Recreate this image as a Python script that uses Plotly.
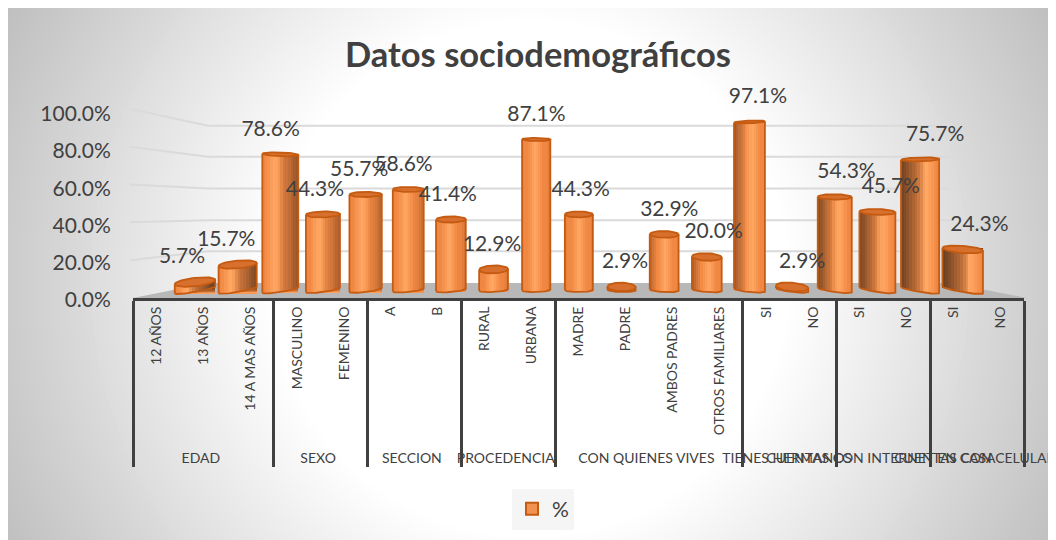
import math
import plotly.graph_objects as go

# ---- data ----
GROUPS = ["EDAD"] * 3 + ["SEXO"] * 2 + ["SECCION"] * 2 + ["PROCEDENCIA"] * 2 + \
         ["CON QUIENES VIVES"] * 4 + ["TIENES HERMANOS"] * 2 + \
         ["CUENTAS CON INTERNET EN CASA"] * 2 + ["CUENTAS CON CELULAR"] * 2
CATEGORIES = ["12 AÑOS", "13 AÑOS", "14 A MAS AÑOS", "MASCULINO", "FEMENINO", "A", "B",
              "RURAL", "URBANA", "MADRE", "PADRE", "AMBOS PADRES", "OTROS FAMILIARES",
              "SI", "NO", "SI", "NO", "SI", "NO"]
VALUES = [5.7, 15.7, 78.6, 44.3, 55.7, 58.6, 41.4, 12.9, 87.1, 44.3, 2.9, 32.9, 20.0,
          97.1, 2.9, 54.3, 45.7, 75.7, 24.3]
Y_TICKS = [0, 20, 40, 60, 80, 100]
Y_TICK_LABELS = ["0.0%", "20.0%", "40.0%", "60.0%", "80.0%", "100.0%"]
TITLE = "Datos sociodemográficos"
SERIES = "%"

# ---- page geometry (pixels of the 1056x540 window) ----
OX, OY = 8, 8
W, H = 1060, 532
L, R, T, B = 133, 1024, 80, 299
TOP_TICK = 112      # pixel of the 100% tick; the plot area runs higher so labels above it stay drawn
FONT = "Lato"
TXT = "#404040"
RIGHT_MARGIN = 44   # what the overhanging last group label leaves to the plot area
def px(x): return (x - L) / (R - L)
def py(y): return (B - y) / (B - T)

# hidden perspective axes the cylinders are drawn on
BAR0, BAR_STEP = 195, 42.65
Y0, Y_STEP = 293, 1.76
x2_range = [(L - BAR0) / BAR_STEP, (R - BAR0) / BAR_STEP]
y2_range = [(Y0 - B) / Y_STEP, (Y0 - T) / Y_STEP]
y_range = [0, 100 * (B - T) / (B - TOP_TICK)]

def mix(a, b, f):
    return tuple(a[k] + (b[k] - a[k]) * f for k in range(3))
def rgb(c):
    return "rgb(%d,%d,%d)" % tuple(round(v) for v in c)

BASE = (240, 135, 66)
LIGHT = (255, 168, 100)
DARK = (92, 58, 34)
RIM = "#C55A11"
CAP = (214, 112, 44)

n = len(VALUES)
mid = (n - 1) / 2
def persp(i): return (i - mid) / mid
def half_w(i):
    return (28 + 12.5 * abs(persp(i)) ** 1.8) / 2 / BAR_STEP
def tilt_base(i):
    return -7 * persp(i) / 2
def tilt_top(i, v):
    return tilt_base(i) * (1 - v / 60) * 0.7
def cap_h(v):
    return 1.2 + 3.2 * (1 - v / 100)
BASE_PX = 2 / Y_STEP
SAG = 2.0

def strip_color(i, u):
    t = persp(i)
    hl = 0.4 * t
    d = abs(u - hl)
    c = mix(LIGHT, BASE, min(1, d / 0.55))
    if d > 0.8:
        c = mix(c, (205, 105, 40), min(1, (d - 0.8) / 0.6))
    side = -u if t > 0 else u
    start = 0.75 - abs(t) * 1.1
    s = min(1, max(0, (side - start) / (1 - start)))
    strength = 0.9 * abs(t) ** 0.7 if t > 0 else 0.9 * abs(t) ** 2.2
    return mix(c, DARK, min(1, s ** 0.8) * strength)

fig = go.Figure()

# real axis carrier: categories and values on the visible axes
fig.add_trace(go.Bar(x=[GROUPS, CATEGORIES], y=VALUES, marker=dict(opacity=0),
                     hoverinfo="skip", showlegend=False, xaxis="x", yaxis="y"))

# cylinders as vertical strips on the hidden axes
N = 14
for j in range(N):
    u0 = -1 + 2 * j / N
    u1 = -1 + 2 * (j + 1) / N
    uc = (u0 + u1) / 2
    xs, offs, wid, base, hgt, cols = [], [], [], [], [], []
    for i, v in enumerate(VALUES):
        hw = half_w(i)
        top = v + tilt_top(i, v) * uc / Y_STEP
        bot = BASE_PX + (tilt_base(i) * uc - SAG * math.sqrt(max(0, 1 - uc * uc))) / Y_STEP
        if top < bot:
            top = bot
        xs.append(i)
        offs.append(u0 * hw)
        wid.append((1 - u0) * hw)   # every strip runs to the right edge, the next one covers it
        base.append(bot)
        hgt.append(top - bot)
        cols.append(rgb(strip_color(i, uc)))
    fig.add_trace(go.Bar(x=xs, y=hgt, base=base, offset=offs, width=wid,
                         marker=dict(color=cols, line=dict(width=0)),
                         hoverinfo="skip", showlegend=False, xaxis="x2", yaxis="y2"))

# outline and caps
ox, oy, cx, cy = [], [], [], []
M = 24
for i, v in enumerate(VALUES):
    hw = half_w(i)
    for k in range(M + 1):
        a = math.pi * k / M
        u = -math.cos(a)
        ox.append(i + u * hw)
        oy.append(BASE_PX + (tilt_base(i) * u - SAG * math.sin(a)) / Y_STEP)
    ox.append(i + hw); oy.append(v + tilt_top(i, v) / Y_STEP)
    ox.append(None); oy.append(None)
    ox.append(i - hw); oy.append(v - tilt_top(i, v) / Y_STEP)
    ox.append(i - hw); oy.append(BASE_PX - tilt_base(i) / Y_STEP)
    ox.append(None); oy.append(None)
    h = cap_h(v)
    for k in range(2 * M + 1):
        a = math.pi * k / M
        u = -math.cos(a)
        cx.append(i + u * hw)
        cy.append(v + (tilt_top(i, v) * u + h * math.sin(a)) / Y_STEP)
    cx.append(None); cy.append(None)
fig.add_trace(go.Scatter(x=ox, y=oy, mode="lines", line=dict(color=RIM, width=1.8),
                         hoverinfo="skip", showlegend=False, xaxis="x2", yaxis="y2", cliponaxis=False))
fig.add_trace(go.Scatter(x=cx, y=cy, mode="lines", fill="toself", fillcolor=rgb(CAP),
                         line=dict(color=RIM, width=1.8),
                         hoverinfo="skip", showlegend=False, xaxis="x2", yaxis="y2", cliponaxis=False))

# value labels
LABEL0, LABEL_STEP = 182, 44.3
fig.add_trace(go.Scatter(
    x=[(LABEL0 + LABEL_STEP * i - BAR0) / BAR_STEP for i in range(n)],
    y=[v + 24 / Y_STEP for v in VALUES],
    text=["%.1f%%" % v for v in VALUES], mode="text", textposition="middle center",
    textfont=dict(family=FONT, size=21, color=TXT),
    hoverinfo="skip", showlegend=False, xaxis="x2", yaxis="y2", cliponaxis=False))

# legend entry
fig.add_trace(go.Bar(x=[None], y=[None], name=SERIES, xaxis="x2", yaxis="y2",
                     marker=dict(color=rgb((241, 146, 80)), line=dict(color=RIM, width=2))))

# ---- background gradient, walls and floor ----
shapes = [dict(type="rect", xref="paper", yref="paper", x0=px(OX), x1=px(OX + W), y0=py(OY + 1), y1=py(OY + H),
               fillcolor="rgb(185,185,185)", line=dict(width=0), layer="below")]
CX, CY, RAD = 530, 280, 260
LEVELS = 70
for k in range(LEVELS):
    t = 2.4 - 1.4 * k / (LEVELS - 1)
    g = 255 - 50 * (t - 1)
    shapes.append(dict(type="circle", xref="paper", yref="paper",
                       x0=px(CX - RAD * t), x1=px(CX + RAD * t),
                       y0=py(CY + RAD * t), y1=py(CY - RAD * t),
                       fillcolor=rgb((g, g, g)), line=dict(width=0), layer="below"))
BACK_L, BACK_R = 208, 950
WALL_LEFT = [299, 261, 223, 185, 147, 109]
WALL_BACK = [284, 252, 221, 189, 157, 126]
for yl, yb in list(zip(WALL_LEFT, WALL_BACK))[1:]:
    shapes.append(dict(type="path", xref="paper", yref="paper",
                       path="M %f %f L %f %f L %f %f" % (px(L - 3), py(yl), px(BACK_L), py(yb), px(BACK_R), py(yb)),
                       line=dict(color="#DADADA", width=2), layer="below"))
shapes.append(dict(type="path", xref="paper", yref="paper",
                   path="M %f %f L %f %f L %f %f L %f %f Z" % (px(L), py(B), px(BACK_L), py(284), px(BACK_R), py(284), px(R + 3), py(B)),
                   fillcolor="#B8B8B8", line=dict(width=0), layer="below"))

fig.update_layout(
    width=W, height=H, autosize=False,
    margin=dict(l=L - OX, r=RIGHT_MARGIN, t=T - OY, b=OY + H - B, pad=0),
    paper_bgcolor="white", plot_bgcolor="rgba(0,0,0,0)",
    barmode="overlay", bargap=0,
    font=dict(family=FONT, color=TXT),
    title=dict(text="<b>" + TITLE + "</b>", x=(538 - OX) / W, xanchor="center",
               y=1 - (55 - OY) / H, yanchor="middle",
               font=dict(family=FONT, size=34.5, color=TXT)),
    shapes=shapes,
    showlegend=True,
    legend=dict(x=px(543), xanchor="center", y=py(509), yanchor="middle", bgcolor="#F5F5F5",
                font=dict(family=FONT, size=21, color=TXT), borderwidth=0),
    xaxis=dict(type="multicategory", tickangle=-90, showline=True, linecolor=TXT, linewidth=3,
               tickfont=dict(family=FONT, size=14, color=TXT), showdividers=True,
               dividercolor=TXT, dividerwidth=3, showgrid=False, zeroline=False, ticks=""),
    yaxis=dict(range=y_range, tickvals=Y_TICKS, ticktext=Y_TICK_LABELS, ticklabelshift=2,
               tickfont=dict(family=FONT, size=21, color=TXT), showgrid=False, zeroline=False,
               showline=False, ticks="outside", ticklen=17, tickcolor="rgba(0,0,0,0)"),
    xaxis2=dict(overlaying="x", visible=False, range=x2_range, anchor="y"),
    yaxis2=dict(overlaying="y", visible=False, range=y2_range, anchor="x"),
)

fig.write_html("out.html", post_script="document.documentElement.style.overflow='hidden';")
